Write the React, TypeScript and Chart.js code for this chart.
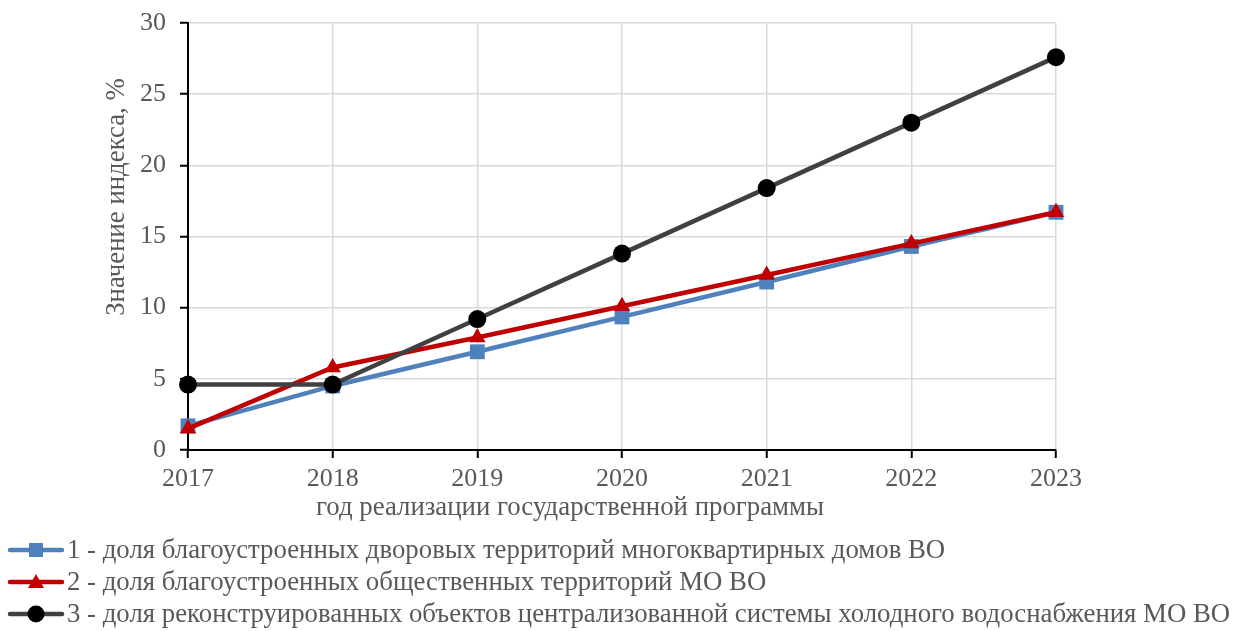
import React, { useEffect, useRef } from "react";
import { Chart, registerables } from "chart.js";

Chart.register(...registerables);

const years = ["2017", "2018", "2019", "2020", "2021", "2022", "2023"];
const courtyards = [1.7, 4.5, 6.9, 9.35, 11.8, 14.3, 16.7];
const publicSpaces = [1.5, 5.8, 7.9, 10.1, 12.3, 14.5, 16.7];
const waterSupply = [4.6, 4.6, 9.2, 13.8, 18.4, 23.0, 27.6];
const seriesNames = [
  "1 - доля благоустроенных дворовых территорий многоквартирных домов ВО",
  "2 - доля благоустроенных общественных территорий МО ВО",
  "3 - доля реконструированных объектов централизованной системы холодного водоснабжения МО ВО",
];
const xTitle = "год реализации государственной программы";
const yTitle = "Значение индекса, %";

const BLUE = "#4f81bd";
const RED = "#c00000";
const DARK = "#404040";
const TEXT = "#595959";
const FONT = "'Liberation Serif', 'Times New Roman', serif";
const LABEL_SIZE = 26.8;

type Marker = "rect" | "triangle" | "circle";

function drawMarker(ctx: CanvasRenderingContext2D, kind: Marker, x: number, y: number, color: string) {
  ctx.save();
  ctx.fillStyle = color;
  ctx.beginPath();
  if (kind === "rect") {
    ctx.rect(x - 7, y - 7, 14, 14);
  } else if (kind === "triangle") {
    ctx.moveTo(x, y - 8);
    ctx.lineTo(x + 8, y + 6);
    ctx.lineTo(x - 8, y + 6);
    ctx.closePath();
  } else {
    ctx.arc(x, y, 8.5, 0, Math.PI * 2);
  }
  ctx.fill();
  ctx.restore();
}

const legendItems: { line: string; marker: string; kind: Marker }[] = [
  { line: BLUE, marker: BLUE, kind: "rect" },
  { line: RED, marker: RED, kind: "triangle" },
  { line: DARK, marker: "#000000", kind: "circle" },
];

const decorPlugin = {
  id: "decor",
  afterDraw(chart: any) {
    const ctx: CanvasRenderingContext2D = chart.ctx;
    ctx.save();
    ctx.fillStyle = TEXT;
    ctx.font = `${LABEL_SIZE}px ${FONT}`;
    // x-axis title
    ctx.textAlign = "center";
    ctx.textBaseline = "middle";
    ctx.fillText(xTitle, 570, 508);
    // y-axis title
    ctx.save();
    ctx.translate(117, 197);
    ctx.rotate(-Math.PI / 2);
    ctx.fillText(yTitle, 0, 0);
    ctx.restore();
    // legend
    ctx.textAlign = "left";
    seriesNames.forEach((name, i) => {
      const y = 550 + i * 32;
      const it = legendItems[i];
      ctx.strokeStyle = it.line;
      ctx.lineWidth = 4.5;
      ctx.lineCap = "round";
      ctx.beginPath();
      ctx.moveTo(10, y);
      ctx.lineTo(62, y);
      ctx.stroke();
      drawMarker(ctx, it.kind, 36, y, it.marker);
      ctx.fillStyle = TEXT;
      ctx.fillText(name, 67, y + 1);
    });
    ctx.restore();
  },
};

export default function App() {
  const ref = useRef<HTMLCanvasElement>(null);

  useEffect(() => {
    if (!ref.current) return;
    const chart = new Chart(ref.current, {
      type: "line",
      data: {
        labels: years,
        datasets: [
          {
            label: seriesNames[0],
            data: courtyards,
            borderColor: BLUE,
            backgroundColor: BLUE,
            borderWidth: 4.5,
            pointStyle: "rect",
            pointRadius: 10.5,
            pointBorderWidth: 0,
            order: 2,
            clip: false,
          },
          {
            label: seriesNames[1],
            data: publicSpaces,
            borderColor: RED,
            backgroundColor: RED,
            borderWidth: 4.5,
            pointStyle: "triangle",
            pointRadius: 9.5,
            pointBorderWidth: 0,
            order: 1,
            clip: false,
          },
          {
            label: seriesNames[2],
            data: waterSupply,
            borderColor: DARK,
            backgroundColor: "#000000",
            borderWidth: 4.5,
            pointStyle: "circle",
            pointRadius: 9,
            pointBorderWidth: 0,
            order: 0,
            clip: false,
          },
        ],
      },
      options: {
        animation: false,
        responsive: false,
        layout: { padding: { left: 0, right: 177, top: 23, bottom: 101 } },
        plugins: {
          legend: { display: false },
          tooltip: { enabled: false },
        },
        scales: {
          x: {
            offset: false,
            grid: {
              color: "#d9d9d9",
              lineWidth: 1.5,
              tickColor: "#000000",
              tickLength: 8,
              tickWidth: 2,
            },
            border: { display: true, color: "#000000", width: 2 },
            ticks: {
              color: TEXT,
              font: { family: FONT, size: 26 },
              padding: 6,
              maxRotation: 0,
            },
            afterFit(scale: any) {
              scale.height = 80;
              scale.paddingLeft = 0;
              scale.paddingRight = 0;
            },
          },
          y: {
            min: 0,
            max: 30,
            grid: {
              color: "#d9d9d9",
              lineWidth: 1.5,
              tickColor: "#000000",
              tickLength: 8,
              tickWidth: 2,
            },
            border: { display: true, color: "#000000", width: 2 },
            ticks: {
              stepSize: 5,
              color: TEXT,
              font: { family: FONT, size: 26 },
              padding: 14,
            },
            afterFit(scale: any) {
              scale.width = 188;
              scale.paddingTop = 0;
              scale.paddingBottom = 0;
            },
          },
        },
      },
      plugins: [decorPlugin],
    });
    return () => chart.destroy();
  }, []);

  return (
    <div style={{ position: "fixed", left: 0, top: 0, width: 1233, height: 631, background: "#fff" }}>
      <canvas ref={ref} width={1233} height={631} style={{ width: 1233, height: 631 }} />
    </div>
  );
}
